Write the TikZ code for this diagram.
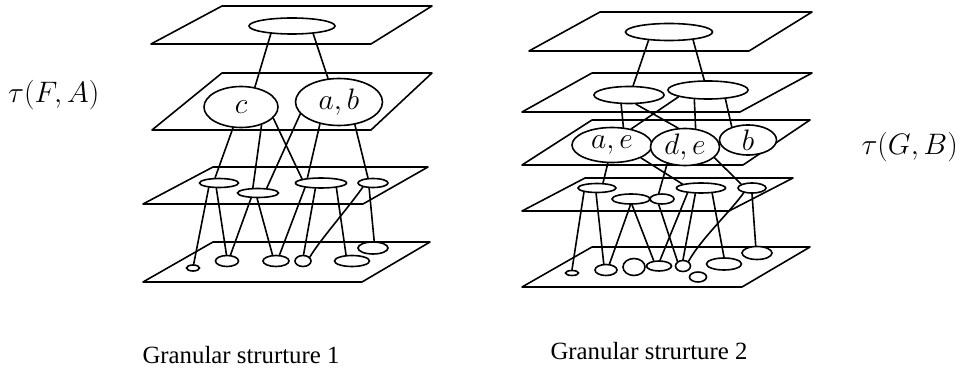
\documentclass[tikz,border=0pt]{standalone}
\usepackage[no-math]{fontspec}
\usepackage{graphicx}
\newfontfamily\capfont{Liberation Serif}
\usetikzlibrary{shapes.geometric}
\newcommand{\gsmath}[1]{\scalebox{1.19}{$#1$}}
\tikzset{
  nd/.style={draw, ellipse, fill=white, inner sep=0pt, line width=1.6pt},
  lbl/.style={inner sep=0pt, font=\fontsize{24.88}{28}\selectfont},
  sz/.style 2 args={minimum width=#1pt, minimum height=#2pt},
  planeline/.style={line width=1.6pt, line join=round},
  edge/.style={line width=1.6pt, line cap=round},
  tlabel/.style={inner sep=0pt, font=\fontsize{24.88}{28}\selectfont},
  caption/.style={inner sep=0pt, anchor=base, font=\capfont\fontsize{24.8}{27}\selectfont}
}
\begin{document}
\begin{tikzpicture}[x=1pt,y=-1pt]
\useasboundingbox (0,0) rectangle (961,379);
% ---------- left stack planes
\draw[planeline] (151,44) -- (371,44) -- (432,6) -- (222,6) -- cycle;
\draw[planeline] (152,130) -- (371,130) -- (432,73) -- (222,73) -- cycle;
\draw[planeline] (143,204) -- (363,204) -- (428,167) -- (213,167) -- cycle;
\draw[planeline] (143,282) -- (362,282) -- (430,242) -- (213,242) -- cycle;
% ---------- right stack planes
\draw[planeline] (529,51) -- (749,51) -- (812,12) -- (600,12) -- cycle;
\draw[planeline] (522,112) -- (740,112) -- (812,73) -- (592,73) -- cycle;
\draw[planeline] (522,165) -- (743,165) -- (810,120) -- (592,120) -- cycle;
\draw[planeline] (522,211) -- (729,211) -- (793,178) -- (585,178) -- cycle;
\draw[planeline] (522,287) -- (742,287) -- (810,247) -- (592,247) -- cycle;

% ---------- left nodes
\node[nd, sz={86}{16}] (T1) at (292,26) {};
\node[nd, sz={74}{41}, label={[lbl]center:\gsmath{c}}] (C) at (241,107) {};
\node[nd, sz={87}{47}, label={[lbl]center:\gsmath{a,b}}] (AB) at (339,102) {};
\node[nd, sz={39}{9}] (e1) at (219,183) {};
\node[nd, sz={41}{9}] (e2) at (258,193) {};
\node[nd, sz={51}{10}] (e3) at (321,183) {};
\node[nd, sz={30}{9}] (e4) at (373,183) {};
\node[nd, sz={13}{6}] (f1) at (193,268) {};
\node[nd, sz={23}{11}] (f2) at (227,261) {};
\node[nd, sz={26}{11}] (f3) at (276,261) {};
\node[nd, sz={16}{11}] (f4) at (303,261) {};
\node[nd, sz={35}{11}] (f5) at (352,261) {};
\node[nd, sz={30}{12}] (f6) at (373,248) {};

% ---------- right nodes
\node[nd, sz={87}{17}] (T2) at (669,32) {};
\node[nd, sz={70}{17}] (g1) at (629,95) {};
\node[nd, sz={80}{18}] (g2) at (708,90) {};
\node[nd, sz={80}{35}, label={[lbl]center:\gsmath{a,e}}] (AE) at (612,145) {};
\node[nd, sz={69}{37}, label={[lbl]center:\gsmath{d,e}}] (DE) at (685,147) {};
\node[nd, sz={57}{30}, label={[lbl]center:\gsmath{b}}] (B) at (748,140) {};
\node[nd, sz={38}{9}] (h1) at (597,188) {};
\node[nd, sz={38}{10}] (h2) at (631,199) {};
\node[nd, sz={24}{10}] (h3) at (662,199) {};
\node[nd, sz={49}{10}] (h4) at (701,188) {};
\node[nd, sz={28}{10}] (h5) at (752,188) {};
\node[nd, sz={13}{5}] (k1) at (572,273) {};
\node[nd, sz={22}{11}] (k2) at (606,270) {};
\node[nd, sz={22}{17}] (k3) at (634,267) {};
\node[nd, sz={25}{10}] (k4) at (659,266) {};
\node[nd, sz={15}{11}] (k5) at (683,266) {};
\node[nd, sz={17}{10}] (k6) at (698,277) {};
\node[nd, sz={35}{12}] (k7) at (724,264) {};
\node[nd, sz={30}{13}] (k8) at (757,253) {};

% ---------- left edges
\draw[edge] (T1.-160) -- (C.55);
\draw[edge] (T1.-20) -- (AB.115);
\draw[edge] (C.-111) -- (e1.127);
\draw[edge] (C.-41) -- (e2.135);
\draw[edge] (C.-19) -- (e3.168);
\draw[edge] (AB.-163) -- (e2.29);
\draw[edge] (AB.-131) -- (e3.160);
\draw[edge] (AB.-55) -- (e4.135);
\draw[edge] (e1.-156) -- (f1.80);
\draw[edge] (e1.-117) -- (f2.95);
\draw[edge] (e2.-144) -- (f2.60);
\draw[edge] (e2.-100) -- (f3.120);
\draw[edge] (e3.-164) -- (f3.60);
\draw[edge] (e3.-135) -- (f4.85);
\draw[edge] (e3.-17) -- (f5.135);
\draw[edge] (e4.-158) .. controls (345,212) and (320,240) .. (f4.30);
\draw[edge] (e4.-127) -- (f6.80);

% ---------- right edges
\draw[edge] (T2.-158) -- (g1.66);
\draw[edge] (T2.-18) -- (g2.111);
\draw[edge] (g1.-131) -- (AE.57);
\draw[edge] (g1.-53) -- (DE.110);
\draw[edge] (g2.-167) -- (AE.40);
\draw[edge] (g2.-146) -- (DE.60);
\draw[edge] (g2.-27) -- (B.141);
\draw[edge] (AE.-103) -- (h1.40);
\draw[edge] (AE.-24) -- (h4.168);
\draw[edge] (DE.-137) -- (h3.120);
\draw[edge] (DE.-20) -- (h5.160);
\draw[edge] (h1.-163) -- (k1.90);
\draw[edge] (h1.-100) -- (k2.110);
\draw[edge] (h2.-95) -- (k2.60);
\draw[edge] (h2.-80) -- (k4.135);
\draw[edge] (h3.-120) -- (k5.140);
\draw[edge] (h4.-160) -- (k4.80);
\draw[edge] (h4.-135) -- (k5.90);
\draw[edge] (h4.-25) -- (k7.90);
\draw[edge] (h5.-150) .. controls (730,212) and (700,240) .. (k5.40);
\draw[edge] (h5.-90) -- (k8.100);

% ---------- labels
\node[tlabel, anchor=west] (tFA) at (8,95) {\gsmath{\tau(F,A)}};
\node[tlabel, anchor=east] (tGB) at (958,147) {\gsmath{\tau(G,B)}};
\node[caption] (cap1) at (241,363) {Granular strurture 1};
\node[caption] (cap2) at (649,359) {Granular strurture 2};
\end{tikzpicture}
\end{document}
